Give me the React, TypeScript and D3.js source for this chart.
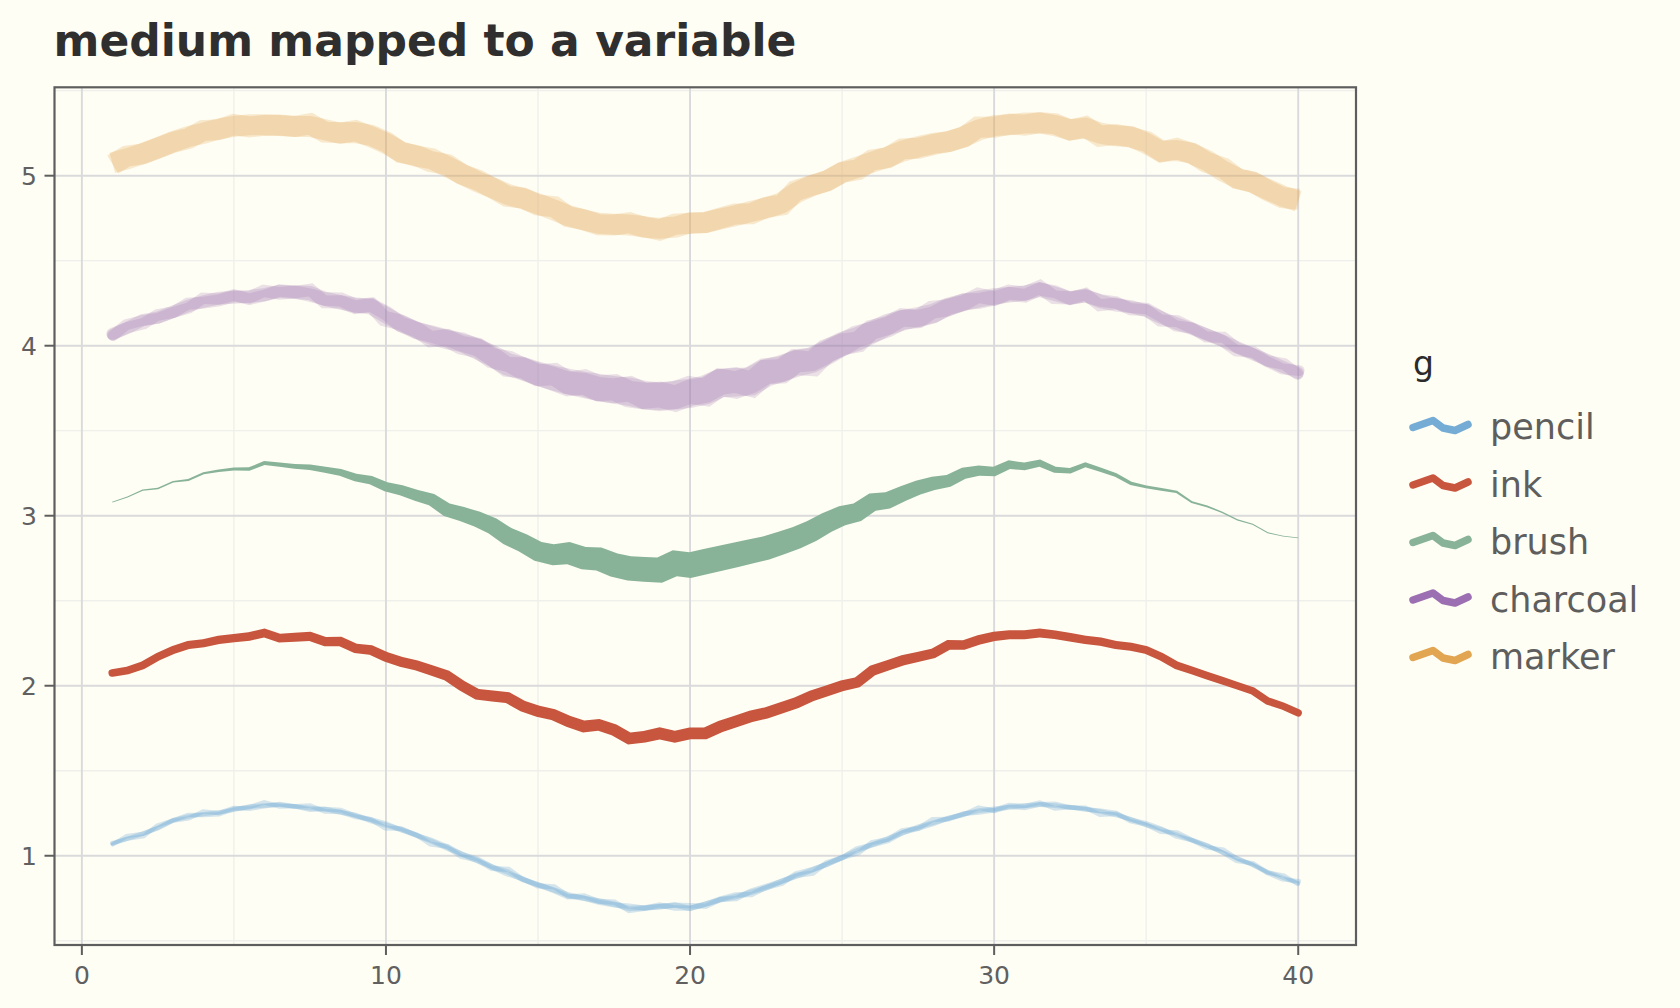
import { useEffect, useMemo } from 'react';
import * as d3 from 'd3';

const WIDTH = 1680;
const HEIGHT = 1008;
const PANEL = { left: 54.5, right: 1356, top: 87.3, bottom: 945 };

const BG = '#fffef4';
const TITLE_COLOR = '#2f2f2f';
const AXIS_TEXT = '#606060';
const FRAME = '#5e5e5e';
const GRID_MAJOR = '#dadadc';
const GRID_MINOR = '#efefec';
const FONT = '"DejaVu Sans", Verdana, sans-serif';

// ── Data ─────────────────────────────────────────────────────────────
const X_VALUES = [
  1, 1.5, 2, 2.5, 3, 3.5, 4, 4.5, 5,
  5.5, 6, 6.5, 7, 7.5, 8, 8.5, 9, 9.5, 10,
  10.5, 11, 11.5, 12, 12.5, 13, 13.5, 14, 14.5, 15,
  15.5, 16, 16.5, 17, 17.5, 18, 18.5, 19, 19.5, 20,
  20.5, 21, 21.5, 22, 22.5, 23, 23.5, 24, 24.5, 25,
  25.5, 26, 26.5, 27, 27.5, 28, 28.5, 29, 29.5, 30,
  30.5, 31, 31.5, 32, 32.5, 33, 33.5, 34, 34.5, 35,
  35.5, 36, 36.5, 37, 37.5, 38, 38.5, 39, 39.5, 40,
];

const PENCIL = [
  1.075, 1.10, 1.13, 1.165, 1.21, 1.23, 1.245, 1.255, 1.27,
  1.29, 1.295, 1.30, 1.29, 1.28, 1.275, 1.255, 1.24, 1.205, 1.18,
  1.155, 1.12, 1.085, 1.045, 1.01, 0.97, 0.935, 0.905, 0.86, 0.83,
  0.80, 0.77, 0.75, 0.735, 0.715, 0.69, 0.695, 0.70, 0.71, 0.69,
  0.715, 0.74, 0.76, 0.785, 0.81, 0.85, 0.88, 0.915, 0.95, 0.99,
  1.03, 1.065, 1.10, 1.135, 1.17, 1.195, 1.22, 1.245, 1.265, 1.275,
  1.285, 1.295, 1.30, 1.295, 1.285, 1.275, 1.26, 1.24, 1.215, 1.18,
  1.155, 1.125, 1.09, 1.06, 1.02, 0.985, 0.945, 0.905, 0.87, 0.84,
];

const INK = [
  2.075, 2.09, 2.12, 2.17, 2.21, 2.24, 2.25, 2.27, 2.28,
  2.29, 2.31, 2.28, 2.285, 2.29, 2.26, 2.26, 2.22, 2.21, 2.17,
  2.14, 2.12, 2.09, 2.06, 2.00, 1.95, 1.94, 1.93, 1.88, 1.85,
  1.83, 1.79, 1.76, 1.77, 1.74, 1.69, 1.70, 1.72, 1.70, 1.72,
  1.72, 1.76, 1.79, 1.82, 1.84, 1.87, 1.90, 1.94, 1.97, 2.00,
  2.02, 2.09, 2.12, 2.15, 2.17, 2.19, 2.24, 2.24, 2.27, 2.29,
  2.30, 2.30, 2.31, 2.30, 2.285, 2.27, 2.26, 2.24, 2.23, 2.21,
  2.17, 2.12, 2.09, 2.06, 2.03, 2.00, 1.97, 1.91, 1.88, 1.84,
];

const BRUSH = [
  3.08, 3.11, 3.15, 3.16, 3.20, 3.21, 3.25, 3.265, 3.275,
  3.275, 3.31, 3.30, 3.29, 3.285, 3.27, 3.255, 3.225, 3.21, 3.17,
  3.15, 3.12, 3.095, 3.035, 3.01, 2.98, 2.94, 2.88, 2.84, 2.79,
  2.77, 2.78, 2.75, 2.745, 2.71, 2.69, 2.685, 2.68, 2.72, 2.71,
  2.73, 2.75, 2.77, 2.79, 2.81, 2.84, 2.87, 2.91, 2.96, 3.00,
  3.02, 3.08, 3.09, 3.13, 3.165, 3.19, 3.205, 3.25, 3.265, 3.26,
  3.30, 3.29, 3.31, 3.27, 3.265, 3.30, 3.27, 3.24, 3.19, 3.17,
  3.155, 3.14, 3.08, 3.055, 3.02, 2.975, 2.95, 2.90, 2.88, 2.87,
];

const CHARCOAL = [
  4.07, 4.105, 4.15, 4.165, 4.20, 4.235, 4.26, 4.28, 4.285,
  4.29, 4.30, 4.32, 4.315, 4.31, 4.275, 4.255, 4.24, 4.23, 4.18,
  4.13, 4.09, 4.06, 4.035, 4.02, 3.98, 3.94, 3.89, 3.865, 3.835,
  3.81, 3.79, 3.77, 3.755, 3.74, 3.73, 3.71, 3.70, 3.71, 3.72,
  3.74, 3.78, 3.785, 3.79, 3.84, 3.865, 3.895, 3.915, 3.96, 4.01,
  4.04, 4.08, 4.125, 4.15, 4.17, 4.19, 4.23, 4.255, 4.275, 4.29,
  4.30, 4.31, 4.33, 4.305, 4.28, 4.295, 4.26, 4.24, 4.23, 4.205,
  4.165, 4.13, 4.10, 4.065, 4.03, 3.99, 3.95, 3.915, 3.875, 3.84,
];

const MARKER = [
  5.075, 5.10, 5.13, 5.165, 5.20, 5.23, 5.25, 5.275, 5.29,
  5.30, 5.30, 5.295, 5.29, 5.29, 5.27, 5.25, 5.265, 5.23, 5.19,
  5.14, 5.115, 5.10, 5.055, 5.01, 4.965, 4.93, 4.89, 4.865, 4.835,
  4.80, 4.765, 4.74, 4.72, 4.715, 4.71, 4.70, 4.68, 4.715, 4.72,
  4.725, 4.745, 4.765, 4.79, 4.81, 4.84, 4.90, 4.94, 4.97, 5.02,
  5.05, 5.08, 5.11, 5.145, 5.17, 5.19, 5.20, 5.23, 5.27, 5.295,
  5.30, 5.31, 5.31, 5.295, 5.27, 5.28, 5.25, 5.235, 5.23, 5.19,
  5.14, 5.16, 5.13, 5.09, 5.03, 4.985, 4.96, 4.92, 4.88, 4.85,
];

const MEDIA = ['pencil', 'ink', 'brush', 'charcoal', 'marker'];
const MEDIUM_COLOR: Record<string, string> = {
  pencil: '#75acd6',
  ink: '#c8553d',
  brush: '#88b399',
  charcoal: '#9b6fb1',
  marker: '#e2a552',
};

const X_TICKS = [0, 10, 20, 30, 40];
const X_MINOR = [5, 15, 25, 35];
const Y_TICKS = [1, 2, 3, 4, 5];
const Y_MINOR = [0.5, 1.5, 2.5, 3.5, 4.5, 5.5];

// ── Stroke geometry helpers ──────────────────────────────────────────
type Pt = [number, number];

const bell = (v: number, mu: number, sd: number) =>
  Math.exp(-((v - mu) ** 2) / (2 * sd * sd));

// Small hand-drawn wobble for the layered media (layer 0 stays on the data).
const wobble = (i: number, k: number, amp: number) =>
  k === 0 ? 0 : amp * (0.6 * Math.sin(i * 2.71 + k * 1.37) + 0.4 * Math.sin(i * 1.13 + k * 2.91 + 0.5));

// Miter-adjusted normals at every vertex.
function vertexNormals(pts: Pt[]): { n: Pt; s: number }[] {
  const count = pts.length;
  const seg: Pt[] = [];
  for (let i = 0; i < count - 1; i++) {
    const dx = pts[i + 1][0] - pts[i][0];
    const dy = pts[i + 1][1] - pts[i][1];
    const len = Math.hypot(dx, dy) || 1;
    seg.push([-dy / len, dx / len]);
  }
  return pts.map((_, i) => {
    const a = seg[Math.max(0, i - 1)];
    const b = seg[Math.min(count - 2, i)];
    let nx = a[0] + b[0];
    let ny = a[1] + b[1];
    const l = Math.hypot(nx, ny) || 1;
    nx /= l;
    ny /= l;
    const cos = Math.max(0.55, nx * b[0] + ny * b[1]);
    return { n: [nx, ny] as Pt, s: 1 / cos };
  });
}

function shift(pts: Pt[], amounts: number[]): Pt[] {
  const norms = vertexNormals(pts);
  return pts.map((p, i) => [p[0] + norms[i].n[0] * amounts[i], p[1] + norms[i].n[1] * amounts[i]]);
}

// Variable-width stroke outline; optional round ends.
function ribbon(pts: Pt[], half: number[], round: boolean): string {
  const norms = vertexNormals(pts);
  const up = pts.map((p, i) => [p[0] + norms[i].n[0] * half[i] * norms[i].s, p[1] + norms[i].n[1] * half[i] * norms[i].s]);
  const lo = pts.map((p, i) => [p[0] - norms[i].n[0] * half[i] * norms[i].s, p[1] - norms[i].n[1] * half[i] * norms[i].s]);
  const last = pts.length - 1;
  const f = (p: number[]) => `${p[0].toFixed(2)},${p[1].toFixed(2)}`;
  let d = `M${f(up[0])}`;
  for (let i = 1; i <= last; i++) d += `L${f(up[i])}`;
  if (round) d += `A${half[last]},${half[last]} 0 0 0 ${f(lo[last])}`;
  else d += `L${f(lo[last])}`;
  for (let i = last - 1; i >= 0; i--) d += `L${f(lo[i])}`;
  if (round) d += `A${half[0]},${half[0]} 0 0 0 ${f(up[0])}`;
  return d + 'Z';
}

// Widths per medium (pixels), as a function of x.
const WIDTH_OF: Record<string, (v: number) => number> = {
  pencil: (v) => 4.2 + 1.2 * bell(v, 20, 9),
  ink: (v) => 7 + 4.8 * bell(v, 19, 9),
  brush: (v) => 0.4 + 25 * bell(v, 20, 7),
  charcoal: (v) => 12 + 17 * bell(v, 20, 6),
  marker: () => 21,
};

// Legend glyph: a short wavy stroke.
const KEY_SHAPE: Pt[] = [[0, 1.5], [20, -5.5], [30, 2], [42, 4.5], [55, -1.5]];

export default function App() {
  useEffect(() => {
    document.body.style.margin = '0';
    document.body.style.background = BG;
  }, []);

  const x = d3.scaleLinear().domain([-0.9, 41.9]).range([PANEL.left, PANEL.right]);
  const y = d3.scaleLinear().domain([0.475, 5.52]).range([PANEL.bottom, PANEL.top]);
  const line = d3.line<Pt>().x((d) => d[0]).y((d) => d[1]);

  const marks = useMemo(() => {
    const valuesOf: Record<string, number[]> = {
      pencil: PENCIL, ink: INK, brush: BRUSH, charcoal: CHARCOAL, marker: MARKER,
    };
    const out: JSX.Element[] = [];
    MEDIA.forEach((m) => {
      const vals = valuesOf[m];
      const pts: Pt[] = X_VALUES.map((xv, i) => [x(xv), y(vals[i])]);
      const w = X_VALUES.map((xv) => WIDTH_OF[m](xv));
      const color = MEDIUM_COLOR[m];
      if (m === 'pencil') {
        [0, 1, 2].forEach((k) => {
          const p = shift(pts, pts.map((_, i) => wobble(i, k, 3.2)));
          out.push(
            <path key={`${m}${k}`} d={ribbon(p, w.map((v) => v / 2), true)}
              fill={color} fillOpacity={0.3} />,
          );
        });
      } else if (m === 'ink') {
        out.push(<path key={m} d={ribbon(pts, w.map((v) => v / 2), true)} fill={color} />);
      } else if (m === 'brush') {
        out.push(<path key={m} d={ribbon(pts, w.map((v) => v / 2), false)} fill={color} />);
      } else if (m === 'charcoal') {
        [0, 1, 2].forEach((k) => {
          const p = shift(pts, pts.map((_, i) => wobble(i, k, 4)));
          const scale = [1, 0.9, 0.95][k];
          out.push(
            <path key={`${m}${k}`} d={ribbon(p, w.map((v) => (v * scale) / 2), true)}
              fill={color} fillOpacity={0.21} />,
          );
        });
      } else {
        [0, 1].forEach((k) => {
          const p = shift(pts, pts.map((_, i) => wobble(i, k, 3.2)));
          out.push(
            <path key={`${m}${k}`} d={line(p) ?? ''} fill="none" stroke={color}
              strokeWidth={w[0]} strokeOpacity={0.245} strokeLinejoin="miter" strokeLinecap="butt" />,
          );
        });
      }
    });
    return out;
  }, []);

  const legendY0 = 426;
  const legendStep = 57.5;
  const keyX = 1413;

  return (
    <svg width={WIDTH} height={HEIGHT} style={{ position: 'absolute', left: 0, top: 0, display: 'block' }}>
      <rect width={WIDTH} height={HEIGHT} fill={BG} />

      {/* minor grid */}
      {X_MINOR.map((v) => (
        <line key={`xm${v}`} x1={x(v)} x2={x(v)} y1={PANEL.top} y2={PANEL.bottom} stroke={GRID_MINOR} strokeWidth={1.3} />
      ))}
      {Y_MINOR.map((v) => (
        <line key={`ym${v}`} x1={PANEL.left} x2={PANEL.right} y1={y(v)} y2={y(v)} stroke={GRID_MINOR} strokeWidth={1.3} />
      ))}
      {/* major grid */}
      {X_TICKS.map((v) => (
        <line key={`xg${v}`} x1={x(v)} x2={x(v)} y1={PANEL.top} y2={PANEL.bottom} stroke={GRID_MAJOR} strokeWidth={1.9} />
      ))}
      {Y_TICKS.map((v) => (
        <line key={`yg${v}`} x1={PANEL.left} x2={PANEL.right} y1={y(v)} y2={y(v)} stroke={GRID_MAJOR} strokeWidth={1.9} />
      ))}

      {marks}

      {/* panel frame */}
      <rect x={PANEL.left} y={PANEL.top} width={PANEL.right - PANEL.left} height={PANEL.bottom - PANEL.top}
        fill="none" stroke={FRAME} strokeWidth={2.2} />

      {/* axes */}
      {X_TICKS.map((v) => (
        <g key={`xt${v}`}>
          <line x1={x(v)} x2={x(v)} y1={PANEL.bottom} y2={PANEL.bottom + 10} stroke={FRAME} strokeWidth={2} />
          <text x={x(v)} y={983.5} textAnchor="middle" fontFamily={FONT} fontSize={25} fill={AXIS_TEXT}>{v}</text>
        </g>
      ))}
      {Y_TICKS.map((v) => (
        <g key={`yt${v}`}>
          <line x1={PANEL.left - 10} x2={PANEL.left} y1={y(v)} y2={y(v)} stroke={FRAME} strokeWidth={2} />
          <text x={37} y={y(v)} dy="0.36em" textAnchor="end" fontFamily={FONT} fontSize={25} fill={AXIS_TEXT}>{v}</text>
        </g>
      ))}

      {/* title */}
      <text x={53.6} y={55.5} fontFamily={FONT} fontSize={44} fontWeight="bold" fill={TITLE_COLOR}>
        medium mapped to a variable
      </text>

      {/* legend */}
      <text x={keyX} y={375} fontFamily={FONT} fontSize={33} fill="#2b2b2b">g</text>
      {MEDIA.map((m, i) => {
        const cy = legendY0 + i * legendStep;
        const key = KEY_SHAPE.map(([dx, dy]) => [keyX + dx, cy + dy] as Pt);
        return (
          <g key={`lg${m}`}>
            <path d={line(key) ?? ''} fill="none" stroke={MEDIUM_COLOR[m]} strokeWidth={7.5}
              strokeLinecap="round" strokeLinejoin="round" />
            <text x={1490} y={cy + 13} fontFamily={FONT} fontSize={35} fill="#5e5e5e">{m}</text>
          </g>
        );
      })}
    </svg>
  );
}
